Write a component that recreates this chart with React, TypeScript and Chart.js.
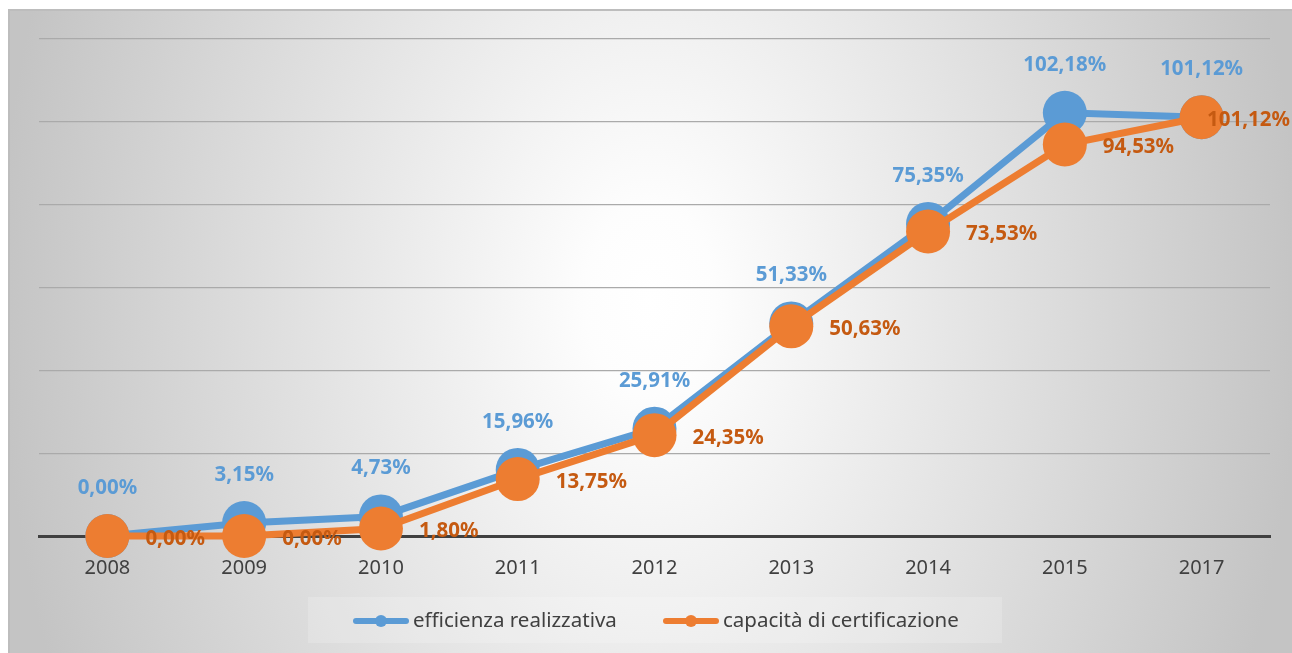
import { useEffect, useRef } from "react";
import { Chart, registerables } from "chart.js";

Chart.register(...registerables);

const categories = ["2008", "2009", "2010", "2011", "2012", "2013", "2014", "2015", "2017"];
const efficienza = [0, 3.15, 4.73, 15.96, 25.91, 51.33, 75.35, 102.18, 101.12];
const capacita = [0, 0, 1.8, 13.75, 24.35, 50.63, 73.53, 94.53, 101.12];
const seriesNames = ["efficienza realizzativa", "capacità di certificazione"];

const BLUE = "#5B9BD5";
const ORANGE = "#ED7D31";
const BLUE_LABEL = "#5B9BD5";
const ORANGE_LABEL = "#C55A11";

const fmt = (v: number) => v.toFixed(2).replace(".", ",") + "%";

const bgPlugin = {
  id: "bgPlugin",
  beforeDraw(chart: any) {
    const { ctx, width, height } = chart;
    ctx.save();
    const cx = 642, cy = 291, rx = 650, ry = 950;
    ctx.translate(cx, cy);
    ctx.scale(1, ry / rx);
    const g = ctx.createRadialGradient(0, 0, 0, 0, 0, rx);
    g.addColorStop(0, "#ffffff");
    g.addColorStop(0.1, "#fdfdfd");
    g.addColorStop(1, "#c4c4c4");
    ctx.fillStyle = g;
    ctx.fillRect(-cx, (-cy * rx) / ry, width, (height * rx) / ry);
    ctx.restore();
    ctx.save();
    ctx.strokeStyle = "#bdbdbd";
    ctx.lineWidth = 2;
    ctx.strokeRect(1, 1, width + 10, height + 10);
    ctx.restore();
  },
};

const labelPlugin = {
  id: "labelPlugin",
  afterDatasetsDraw(chart: any) {
    const { ctx, width } = chart;
    ctx.save();
    ctx.font = "bold 20.5px 'Noto Sans'";
    const m0 = chart.getDatasetMeta(0);
    const m1 = chart.getDatasetMeta(1);
    ctx.fillStyle = BLUE_LABEL;
    ctx.textAlign = "center";
    ctx.textBaseline = "middle";
    m0.data.forEach((p: any, i: number) => {
      ctx.fillText(fmt(efficienza[i]), p.x, p.y - 48);
    });
    ctx.fillStyle = ORANGE_LABEL;
    ctx.textAlign = "left";
    m1.data.forEach((p: any, i: number) => {
      const t = fmt(capacita[i]);
      const w = ctx.measureText(t).width;
      const x = Math.min(p.x + 38, width - w - 2);
      ctx.fillText(t, x, p.y + 3);
    });
    ctx.restore();
  },
  afterDraw(chart: any) {
    const { ctx } = chart;
    ctx.save();
    ctx.fillStyle = "rgba(255,255,255,0.18)";
    ctx.fillRect(300, 588, 694, 46);
    const items = [
      { x: 345, color: BLUE, text: seriesNames[0] },
      { x: 655, color: ORANGE, text: seriesNames[1] },
    ];
    const y = 612;
    items.forEach((it) => {
      ctx.strokeStyle = it.color;
      ctx.lineWidth = 6;
      ctx.lineCap = "round";
      ctx.beginPath();
      ctx.moveTo(it.x + 3, y);
      ctx.lineTo(it.x + 53, y);
      ctx.stroke();
      ctx.fillStyle = it.color;
      ctx.beginPath();
      ctx.arc(it.x + 28, y, 6, 0, Math.PI * 2);
      ctx.fill();
      ctx.fillStyle = "#404040";
      ctx.font = "20.5px 'Noto Sans'";
      ctx.textAlign = "left";
      ctx.textBaseline = "middle";
      ctx.fillText(it.text, it.x + 60, y);
    });
    ctx.restore();
  },
};

export default function App() {
  const ref = useRef<HTMLCanvasElement | null>(null);
  useEffect(() => {
    if (!ref.current) return;
    const chart = new Chart(ref.current, {
      type: "line",
      data: {
        labels: categories,
        datasets: [
          {
            label: seriesNames[0],
            data: efficienza,
            borderColor: BLUE,
            backgroundColor: BLUE,
            borderWidth: 7,
            pointRadius: 22,
            pointBorderWidth: 0,
            pointBackgroundColor: BLUE,
            order: 2,
            clip: false as any,
          },
          {
            label: seriesNames[1],
            data: capacita,
            borderColor: ORANGE,
            backgroundColor: ORANGE,
            borderWidth: 7,
            pointRadius: 22,
            pointBorderWidth: 0,
            pointBackgroundColor: ORANGE,
            order: 1,
            clip: false as any,
          },
        ],
      },
      options: {
        animation: false,
        responsive: false,
        maintainAspectRatio: false,
        layout: { padding: { left: 31, right: 20, top: 30, bottom: 0 } },
        plugins: { legend: { display: false }, tooltip: { enabled: false } },
        scales: {
          x: {
            offset: true,
            grid: { display: false },
            border: { display: true, color: "#404040", width: 3 },
            ticks: { color: "#404040", font: { family: "'Noto Sans'", size: 20 }, padding: 12 },
            afterFit: (s: any) => {
              s.height = 117;
            },
          },
          y: {
            min: 0,
            max: 120,
            grid: { color: "#aaaaaa", lineWidth: 1.3, drawTicks: false },
            border: { display: false },
            ticks: { display: false, stepSize: 20 },
            afterFit: (s: any) => {
              s.width = 0;
            },
          },
        },
      },
      plugins: [bgPlugin, labelPlugin],
    });
    return () => chart.destroy();
  }, []);
  return (
    <div style={{ position: "fixed", left: 8, top: 9, width: 1284, height: 644 }}>
      <canvas ref={ref} width={1284} height={644} style={{ display: "block" }} />
    </div>
  );
}
